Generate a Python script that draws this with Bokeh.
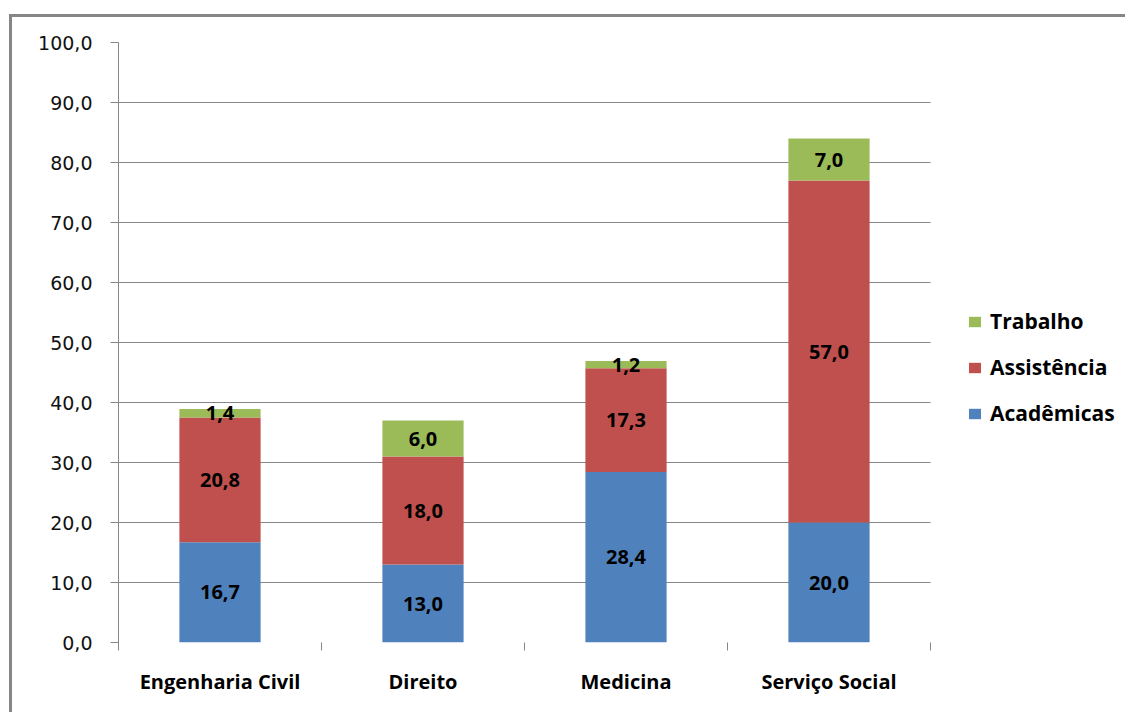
from bokeh.plotting import figure
from bokeh.models import (ColumnDataSource, FixedTicker, Legend, LegendItem,
                          Range1d)
from bokeh.core.properties import value
from bokeh.embed import file_html
from bokeh.resources import INLINE

# Data
cursos = ["Engenharia Civil", "Direito", "Medicina", "Serviço Social"]
academicas = [16.7, 13.0, 28.4, 20.0]
assistencia = [20.8, 18.0, 17.3, 57.0]
trabalho = [1.4, 6.0, 1.2, 7.0]
series = ["Acadêmicas", "Assistência", "Trabalho"]
cores = ["#4F81BD", "#C0504D", "#9BBB59"]
y_ticks = [0, 10, 20, 30, 40, 50, 60, 70, 80, 90, 100]


def fmt(v):
    return f"{v:.1f}".replace(".", ",")


n = len(cursos)
x = [i + 0.5 for i in range(n)]
source = ColumnDataSource(dict(x=x, academicas=academicas,
                               assistencia=assistencia, trabalho=trabalho))

GRID = "#868686"
# canvas origin inside the framed chart area (after margin + 3px border)
OX, OY = 12, 17
PLOT_LEFT, PLOT_RIGHT, PLOT_TOP, PLOT_BOTTOM = 118, 930, 42, 642
W, H = 1128, 715

# The frame runs to the right edge so the legend can sit beside the bars;
# the category axis only covers the left part of it.
x_end = n * (W - PLOT_LEFT) / (PLOT_RIGHT - PLOT_LEFT)

p = figure(width=W - OX, height=H - OY,
           x_range=Range1d(0, x_end),
           y_range=Range1d(0, 100), output_backend="svg",
           toolbar_location=None, min_border_left=PLOT_LEFT - OX,
           min_border_right=0, min_border_top=PLOT_TOP - OY,
           min_border_bottom=H - PLOT_BOTTOM)
p.outline_line_color = None
p.background_fill_color = "white"
p.border_fill_color = "white"
p.margin = (OY - 3, 0, 0, OX - 3)
p.styles = {"border-left": f"3px solid {GRID}", "border-top": f"3px solid {GRID}"}

stack = ["academicas", "assistencia", "trabalho"]
rends = p.vbar_stack(stack, x="x", width=0.4, color=cores, source=source,
                     line_color=None)

# Segment labels centred in each stacked block
lx, ly, lt = [], [], []
for i in range(n):
    base = 0.0
    for vals in (academicas, assistencia, trabalho):
        v = vals[i]
        lx.append(x[i])
        ly.append(base + v / 2)
        lt.append(fmt(v))
        base += v
p.text(x=lx, y=ly, text=lt, text_align="center", text_baseline="middle",
       text_font=value("Open Sans"), text_font_style="bold",
       text_font_size="20px", text_color="black")

# Y axis
p.yaxis.ticker = FixedTicker(ticks=y_ticks)
p.yaxis.major_label_overrides = {t: fmt(t) for t in y_ticks}
p.yaxis.axis_line_color = GRID
p.yaxis.major_tick_line_color = GRID
p.yaxis.major_tick_out = 8
p.yaxis.major_tick_in = 0
p.yaxis.minor_tick_line_color = None
p.yaxis.major_label_standoff = 18
p.yaxis.major_label_text_font = "DejaVu Sans"
p.yaxis.major_label_text_font_size = "19px"
p.yaxis.major_label_text_color = "#111111"

# X axis: category names centred, divider ticks between categories
p.xaxis.ticker = FixedTicker(ticks=x, minor_ticks=list(range(n + 1)))
p.xaxis.major_label_overrides = {xi: c for xi, c in zip(x, cursos)}
p.xaxis.axis_line_color = None
p.xaxis.major_tick_line_color = None
p.xaxis.major_tick_out = 0
p.xaxis.major_tick_in = 0
p.xaxis.minor_tick_line_color = GRID
p.xaxis.minor_tick_out = 8
p.xaxis.minor_tick_in = 0
p.xaxis.major_label_standoff = 17
p.xaxis.major_label_text_font = "Open Sans"
p.xaxis.major_label_text_font_style = "bold"
p.xaxis.major_label_text_font_size = "20px"
p.xaxis.major_label_text_color = "black"

p.xgrid.visible = False
p.ygrid.ticker = FixedTicker(ticks=y_ticks[1:])
p.ygrid.cross_bounds = (0, n)
p.ygrid.grid_line_color = GRID
p.ygrid.grid_line_width = 1

legend = Legend(items=[LegendItem(label=series[2], renderers=[rends[2]]),
                       LegendItem(label=series[1], renderers=[rends[1]]),
                       LegendItem(label=series[0], renderers=[rends[0]])],
                location=(967 - PLOT_LEFT, 215), orientation="vertical")
legend.glyph_width = 15
legend.glyph_height = 13
legend.label_standoff = 8
legend.spacing = 18
legend.padding = 0
legend.margin = 0
legend.border_line_color = None
legend.background_fill_alpha = 0
legend.label_text_font = "Open Sans"
legend.label_text_font_style = "bold"
legend.label_text_font_size = "21px"
legend.label_text_color = "black"
p.add_layout(legend, "center")

open("out.html", "w").write(file_html(p, INLINE))
